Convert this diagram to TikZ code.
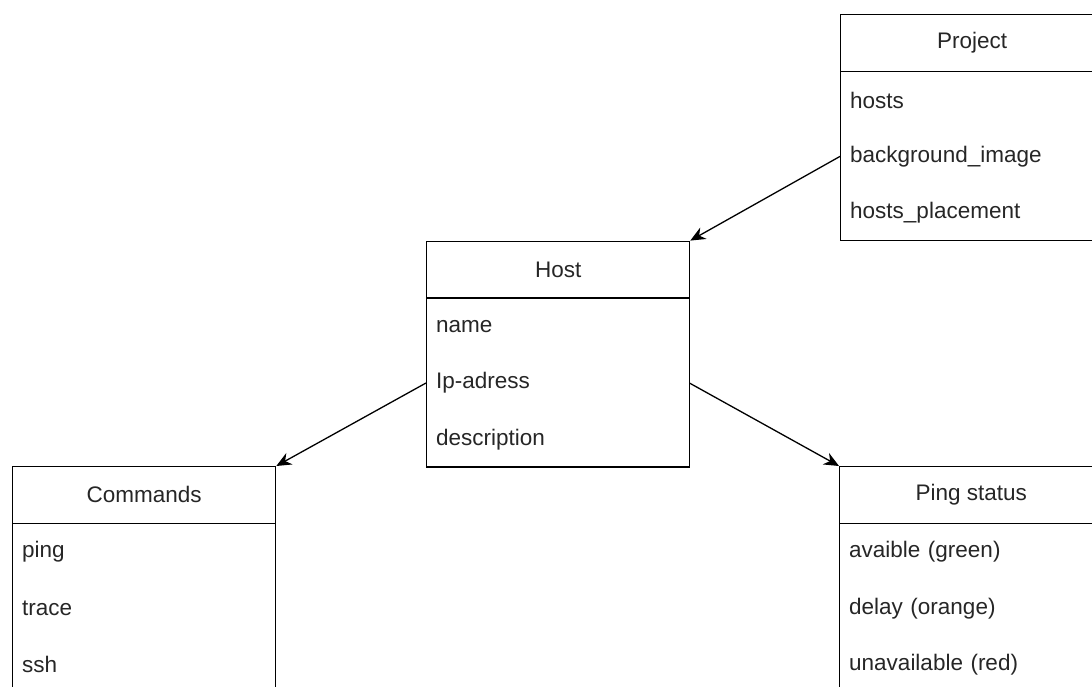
\documentclass[tikz,border=0pt]{standalone}
\usepackage{fontspec}
\setmainfont{Liberation Sans}
\usetikzlibrary{arrows.meta}
\begin{document}
\begin{tikzpicture}[x=1pt,y=-1pt,
  frame/.style={draw=black, line width=1.3pt, inner sep=0pt, anchor=north west, minimum width=263pt},
  head/.style={frame, minimum height=56.6pt, font=\fontsize{22.5}{26}\selectfont, text=black!85},
  body/.style={frame, minimum height=169.2pt},
  field/.style={inner xsep=10pt, inner ysep=0pt, anchor=north west, text width=243pt, align=left,
    minimum height=56.4pt, font=\fontsize{22.5}{26}\selectfont, text=black!85},
  link/.style={draw=black, line width=1.3pt, -{Stealth[length=15pt, width=13pt]}}
]
\useasboundingbox (0,0) rectangle (1092,687);
\clip (0,0) rectangle (1092,687);

% Project
\node[head] (proj) at (840,14) {Project};
\node[body] (projbody) at (840,70.6) {};
\node[field] (proj1) at (840,71.6) {hosts};
\node[field] (proj2) at (840,128) {background\_image};
\node[field] (proj3) at (840,184.4) {hosts\_placement};

% Host
\node[head] (host) at (426,240.6) {Host};
\node[body] (hostbody) at (426,297.2) {};
\node[field] (host1) at (426,298.2) {name};
\node[field] (host2) at (426,354.6) {Ip-adress};
\node[field] (host3) at (426,411) {description};

% Commands
\node[head] (cmd) at (12,466) {Commands};
\node[body] (cmdbody) at (12,522.6) {};
\node[field] (cmd1) at (12,523.6) {ping};
\node[field] (cmd2) at (12,580) {trace};
\node[field] (cmd3) at (12,636.4) {ssh};

% Ping status
\node[head] (ping) at (839,466) {Ping status};
\node[body] (pingbody) at (839,522.6) {};
\node[field] (ping1) at (839,523.6) {avaible (green)};
\node[field] (ping2) at (839,580) {delay (orange)};
\node[field] (ping3) at (839,636.4) {unavailable (red)};

% Relations
\draw[link] (proj2.west) -- (host.north east);
\draw[link] (host2.west) -- (cmd.north east);
\draw[link] (host2.east) -- (ping.north west);
\end{tikzpicture}
\end{document}
